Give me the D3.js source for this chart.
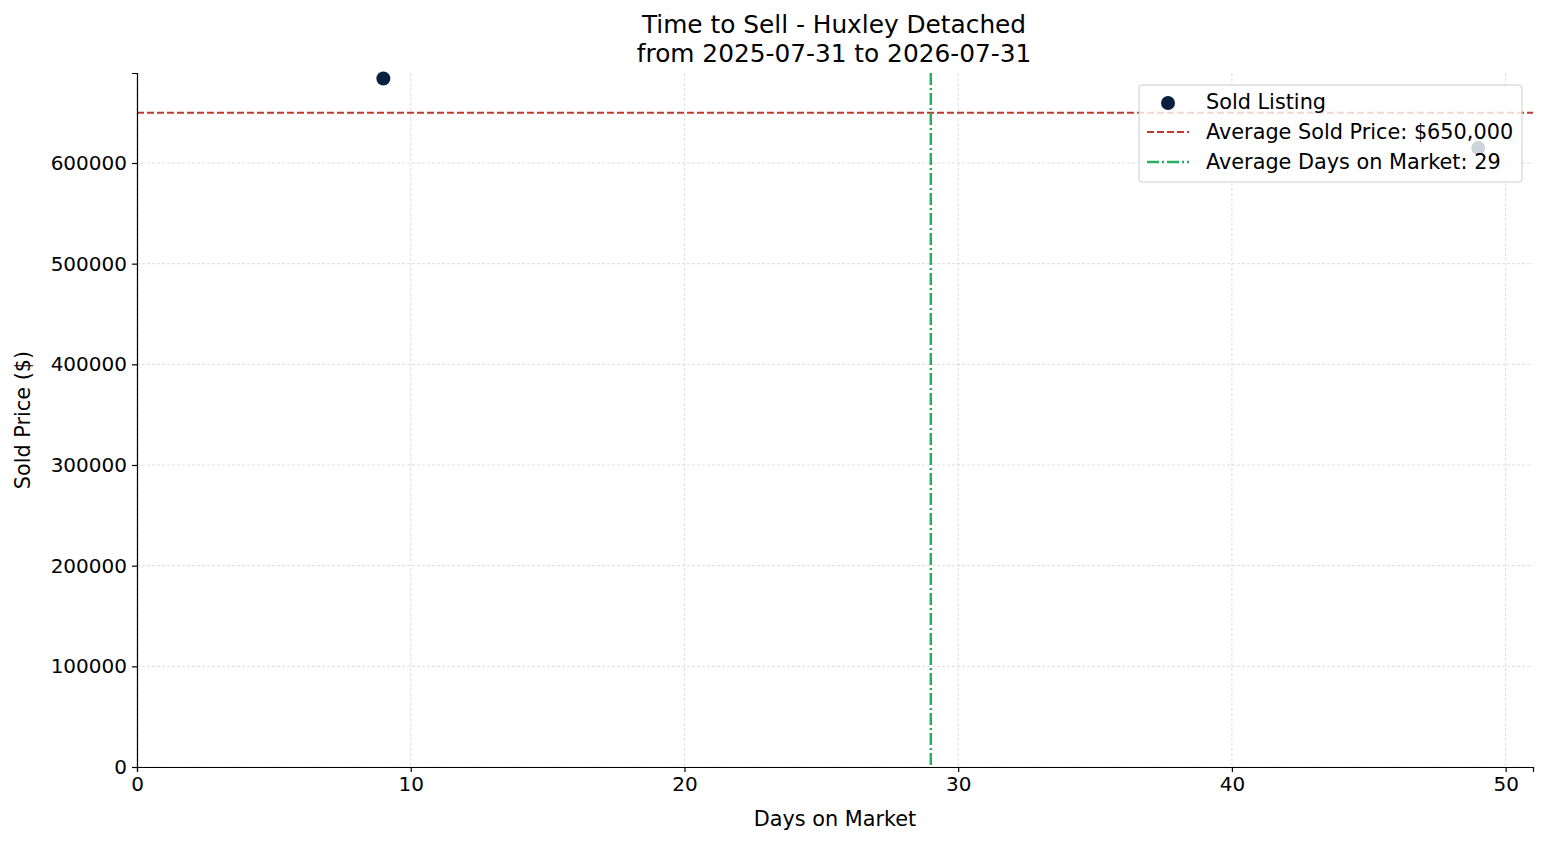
<!DOCTYPE html>
<html><head><meta charset="utf-8">
<script src="https://cdn.jsdelivr.net/npm/d3@7"></script>
<style>body{margin:0;background:#fff} text{font-family:"DejaVu Sans",sans-serif}</style>
</head><body>
<script>
// data
var days = [9, 49];
var prices = [684000, 615000];
var avgPrice = 650000;
var avgDays = 29;
var xTicks = [0, 10, 20, 30, 40, 50];
var yTicks = [0, 100000, 200000, 300000, 400000, 500000, 600000];
var legendLabels = ["Sold Listing", "Average Sold Price: $650,000", "Average Days on Market: 29"];

var W = 1547, H = 845;
var m = {left: 137, right: 1533, top: 73, bottom: 767};

let svg = d3.select("body").append("svg").attr("width", W).attr("height", H);

var x = d3.scaleLinear().domain([0, 51]).range([m.left, m.right]);
var y = d3.scaleLinear().domain([0, 689400]).range([m.bottom, m.top]);

// grid
svg.append("g").selectAll("line").data(xTicks).enter().append("line")
    .attr("x1", d => x(d)).attr("x2", d => x(d)).attr("y1", m.top).attr("y2", m.bottom)
    .attr("stroke", "#ccc").attr("stroke-width", 0.8).attr("stroke-dasharray", "3,2").attr("opacity", 0.8);
svg.append("g").selectAll("line").data(yTicks).enter().append("line")
    .attr("y1", d => y(d)).attr("y2", d => y(d)).attr("x1", m.left).attr("x2", m.right)
    .attr("stroke", "#ccc").attr("stroke-width", 0.8).attr("stroke-dasharray", "3,2").attr("opacity", 0.8);

// points
svg.append("g").selectAll("circle").data(days).enter().append("circle")
    .attr("cx", d => x(d)).attr("cy", (d, i) => y(prices[i])).attr("r", 7).attr("fill", "#0b1f40");

// average lines
svg.append("line").attr("x1", m.left).attr("x2", m.right).attr("y1", y(avgPrice)).attr("y2", y(avgPrice))
    .attr("stroke", "#c0392b").attr("stroke-width", 2).attr("stroke-dasharray", "7,3");
svg.append("line").attr("x1", x(avgDays)).attr("x2", x(avgDays)).attr("y1", m.top).attr("y2", m.bottom)
    .attr("stroke", "#27ae60").attr("stroke-width", 2.5).attr("stroke-dasharray", "12,3,2,3");

// axes
var xAxis = svg.append("g").attr("transform", "translate(0," + m.bottom + ")")
    .call(d3.axisBottom(x).tickValues(xTicks).tickSizeOuter(0).tickSize(5).tickPadding(5));
var yAxis = svg.append("g").attr("transform", "translate(" + m.left + ",0)")
    .call(d3.axisLeft(y).tickValues(yTicks).tickFormat(d3.format("d")).tickSizeOuter(0).tickSize(5).tickPadding(5));
[xAxis, yAxis].forEach(function(a) {
    a.attr("font-size", 20).attr("font-family", "DejaVu Sans");
    a.selectAll("text").attr("fill", "#000");
    a.selectAll("line,path").attr("stroke", "#000").attr("stroke-width", 1.2);
});

// titles
svg.append("text").text("Time to Sell - Huxley Detached").attr("x", 834).attr("y", 33)
    .attr("text-anchor", "middle").attr("font-size", 24.8);
svg.append("text").text("from 2025-07-31 to 2026-07-31").attr("x", 834).attr("y", 62)
    .attr("text-anchor", "middle").attr("font-size", 24.8);
svg.append("text").text("Days on Market").attr("x", 835).attr("y", 826)
    .attr("text-anchor", "middle").attr("font-size", 20.8);
svg.append("text").text("Sold Price ($)").attr("transform", "translate(30,420) rotate(-90)")
    .attr("text-anchor", "middle").attr("font-size", 20.8);

// legend
var lg = svg.append("g").attr("transform", "translate(1139,85)");
lg.append("rect").attr("width", 383).attr("height", 97).attr("rx", 3)
    .attr("fill", "rgba(255,255,255,0.8)").attr("stroke", "#ccc").attr("stroke-width", 1);
lg.append("circle").attr("cx", 29).attr("cy", 18).attr("r", 7).attr("fill", "#0b1f40");
lg.append("line").attr("x1", 8).attr("x2", 50).attr("y1", 47).attr("y2", 47)
    .attr("stroke", "#c0392b").attr("stroke-width", 2).attr("stroke-dasharray", "7,3");
lg.append("line").attr("x1", 8).attr("x2", 50).attr("y1", 77).attr("y2", 77)
    .attr("stroke", "#27ae60").attr("stroke-width", 2.5).attr("stroke-dasharray", "12,3,2,3");
lg.selectAll("text.l").data(legendLabels).enter().append("text").attr("class", "l")
    .text(d => d).attr("x", 67).attr("y", (d, i) => 24 + i * 30).attr("font-size", 20.8);
</script>
</body></html>
